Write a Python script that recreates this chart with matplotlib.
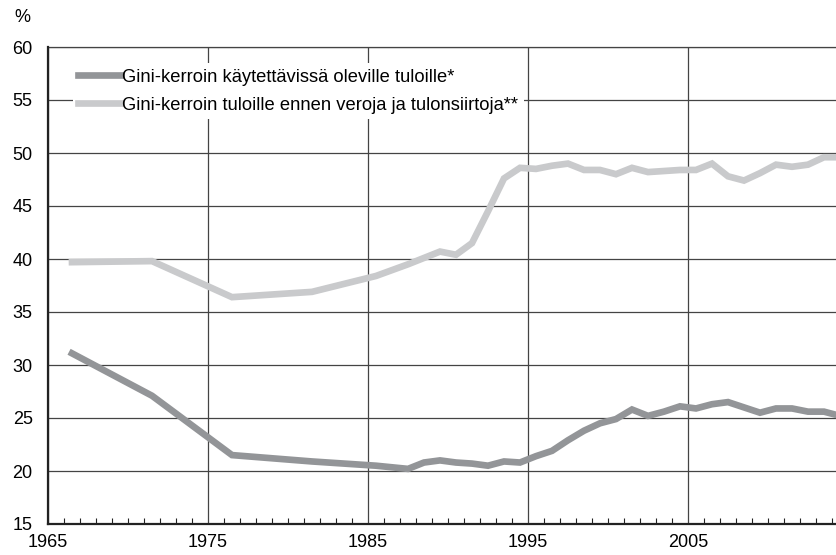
import matplotlib
matplotlib.use('Agg')
import matplotlib.pyplot as plt
import numpy as np
from matplotlib.ticker import MultipleLocator

plt.rcParams['font.family'] = ['Liberation Sans', 'DejaVu Sans']

# %% Data
years = [1966, 1971, 1976, 1981, 1985, 1987, 1988, 1989, 1990, 1991, 1992,
         1993, 1994, 1995, 1996, 1997, 1998, 1999, 2000, 2001, 2002, 2003,
         2004, 2005, 2006, 2007, 2008, 2009, 2010, 2011, 2012, 2013, 2014]
gini_disposable = [31.1, 27.1, 21.5, 20.9, 20.5, 20.2, 20.8, 21.0, 20.8, 20.7,
                   20.5, 20.9, 20.8, 21.4, 21.9, 22.9, 23.8, 24.5, 24.9, 25.8,
                   25.2, 25.6, 26.1, 25.9, 26.3, 26.5, 26.0, 25.5, 25.9, 25.9,
                   25.6, 25.6, 25.2]
gini_market = [39.7, 39.8, 36.4, 36.9, 38.4, 39.5, 40.1, 40.7, 40.4, 41.5,
               44.5, 47.6, 48.6, 48.5, 48.8, 49.0, 48.4, 48.4, 48.0, 48.6,
               48.2, 48.3, 48.4, 48.4, 49.0, 47.8, 47.4, 48.1, 48.9, 48.7,
               48.9, 49.6, 49.6]
labels = ['Gini-kerroin käytettävissä oleville tuloille*',
          'Gini-kerroin tuloille ennen veroja ja tulonsiirtoja**']
xtick_years = [1965, 1975, 1985, 1995, 2005]

# %% Plot
W, H = 836, 555
fig = plt.figure(figsize=(W / 100, H / 100), dpi=100)
ax = fig.add_axes([48 / W, (H - 524) / H, (W - 48) / W, (524 - 47) / H])

x = np.array(years) + 0.5   # values sit in the middle of each year slot
ax.plot(x, gini_disposable, color='#939598', lw=4.8, solid_joinstyle='miter',
        label=labels[0], zorder=3)
ax.plot(x, gini_market, color='#c9cacc', lw=4.8, solid_joinstyle='miter',
        label=labels[1], zorder=3)

ax.set_xlim(1965, 1965 + (W - 48) / 16)
ax.set_ylim(15, 60)
ax.set_xticks(xtick_years)
ax.xaxis.set_minor_locator(MultipleLocator(1))
ax.yaxis.set_major_locator(MultipleLocator(5))
ax.tick_params(axis='x', which='major', length=0, pad=7, labelsize=13)
ax.tick_params(axis='x', which='minor', direction='in', length=4, width=0.8,
               color='#222222')
ax.tick_params(axis='y', length=0, pad=11, labelsize=13)

ax.grid(True, which='major', color='#444444', lw=0.9, zorder=1)
for side in ['top', 'right']:
    ax.spines[side].set_visible(False)
for side in ['left', 'bottom']:
    ax.spines[side].set_linewidth(1.6)
    ax.spines[side].set_color('#222222')
ax.axhline(60, color='#444444', lw=0.9, clip_on=False)

leg = ax.legend(loc='upper left', bbox_to_anchor=(0.02, 0.985),
                frameon=True, fancybox=False, edgecolor='none',
                facecolor='white', framealpha=1, fontsize=13.2,
                handlelength=2.3, handletextpad=0.1, labelspacing=0.6,
                borderpad=0.3)
leg.set_zorder(5)

fig.text(14 / W, 1 - 17 / H, '%', fontsize=13, va='center', ha='left')

fig.savefig('out.png', dpi=100)
